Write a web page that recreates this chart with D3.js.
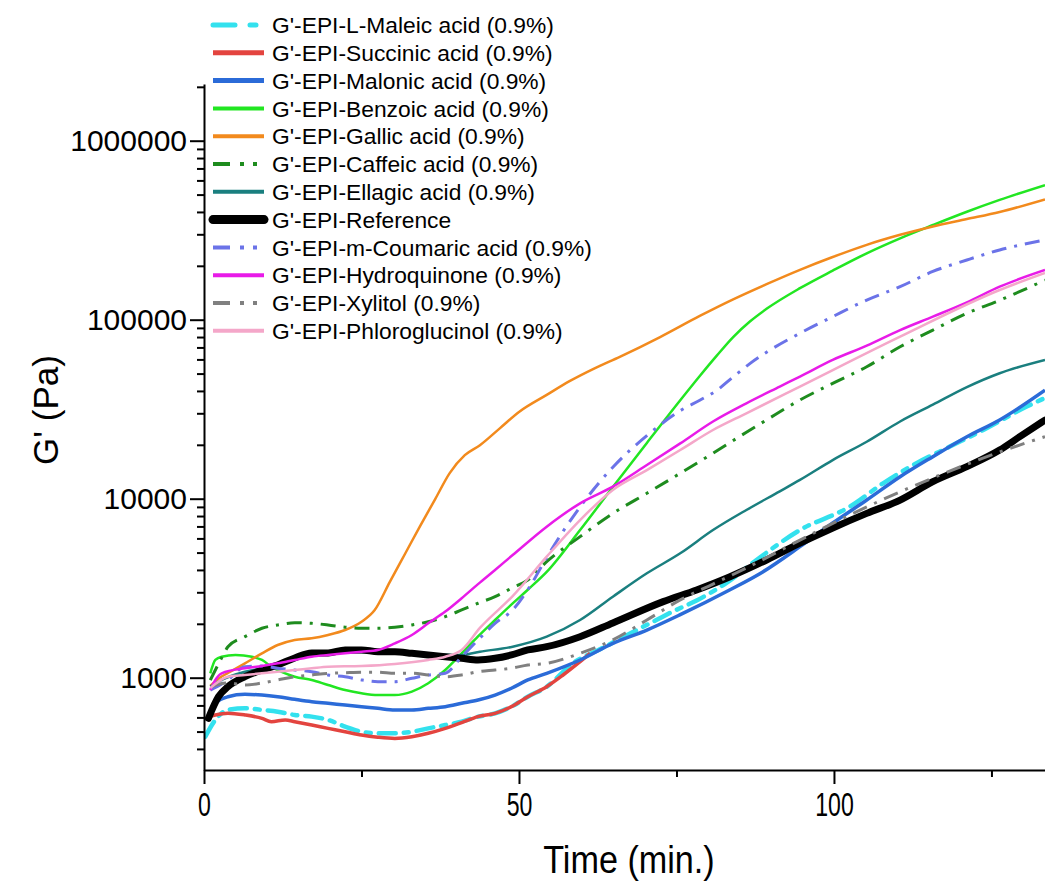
<!DOCTYPE html>
<html>
<head>
<meta charset="utf-8">
<script src="https://cdn.jsdelivr.net/npm/d3@7"></script>
<style>
  body { margin: 0; background: #fff; }
  svg text { font-family: "Liberation Sans", Arial, sans-serif; fill: #000; }
</style>
</head>
<body>
<svg id="chart" width="1045" height="882"></svg>
<script>
// Storage modulus G' (Pa) against time (min), one [time, G'] list per formulation
const maleic = [[0.2,468],[1.8,581],[3.8,661],[6.5,675],[9.2,661],[11.7,646],[14.4,619],[17.1,606],[19.7,581],[22.4,533],[25,499],[27.6,489],[30.3,489],[33,499],[35.6,521],[38.3,544],[40.9,568],[43.5,606],[46.2,632],[48.8,689],[51.4,783],[54.4,890],[58.6,1208],[63,1450],[68.7,1846],[71.8,2100],[74.4,2340],[78.2,2700],[83,3400],[87.7,4545],[94.6,6680],[102.5,9020],[107.8,12190],[113.1,15780],[118.4,19550],[123.7,24200],[130.6,32700],[133.5,36550]];
const succinic = [[0.6,603],[1.8,619],[3.8,633],[6.5,619],[9.2,593],[10.7,568],[12.9,581],[14.4,568],[17.1,544],[19.7,521],[22.4,499],[25,478],[27.6,465],[30.3,458],[33,468],[35.6,489],[38.3,521],[40.9,561],[43.5,606],[46.2,632],[48.8,689],[51.4,783],[54.4,891],[57,1035],[59.7,1228],[61.3,1368]];
const malonic = [[0.7,600],[1.8,719],[3.8,783],[6.5,807],[9.2,800],[11.7,783],[14.4,757],[17.1,734],[19.7,719],[22.4,703],[25,689],[27.6,674],[30.3,661],[33,661],[35.6,674],[38.3,689],[40.9,719],[43.5,750],[46.2,800],[48.8,873],[51.4,971],[54.4,1058],[59.7,1256],[64.9,1556],[70.3,1846],[75.6,2250],[83.5,3100],[88.7,3900],[94.6,5400],[99.8,7310],[105.2,9840],[110.5,13270],[115.7,17180],[121.1,22200],[126.3,27540],[133.5,40400]];
const benzoic = [[1,1058],[1.8,1256],[2.8,1310],[5,1340],[7.6,1310],[9.2,1256],[10.7,1152],[12.9,1058],[14.4,1013],[17.1,971],[19.7,910],[22.4,853],[25,818],[27.6,800],[30.3,800],[33,836],[35.6,931],[38.3,1104],[40.9,1368],[43.5,1700],[46.2,2100],[49,2600],[51.4,3100],[54.4,3900],[59.7,6680],[64.9,11620],[70.3,20500],[75.6,35500],[78.7,48500],[81.4,63000],[84,80000],[86.7,98000],[89.3,115000],[94.6,150000],[99.8,188000],[105.2,235000],[110.5,285000],[115.7,338000],[121.1,401000],[126.3,467000],[133.5,565000]];
const gallic = [[1,900],[2.5,1000],[3.8,1062],[6.5,1203],[9.2,1368],[11.7,1523],[14.4,1625],[17.1,1660],[19.7,1733],[22.4,1847],[25,2055],[27.1,2388],[29.5,3430],[31.9,4910],[34.3,7030],[36.7,9950],[39,13900],[41.4,17500],[43.8,19900],[47,24800],[50,30500],[54.4,38000],[58.1,45500],[62,53500],[66,62000],[72.4,80000],[78.7,105000],[84,130000],[89.3,158000],[94.6,190000],[99.8,224000],[105.2,262000],[110.5,298000],[115.7,332000],[121.1,365000],[126.3,400000],[133.5,470000]];
const caffeic = [[1,970],[2.8,1290],[3.8,1490],[6.5,1695],[9.2,1888],[11.7,1970],[14.4,2028],[17.1,2013],[19.7,1970],[22.4,1914],[25,1888],[27.6,1888],[30.3,1914],[33,1970],[35.6,2055],[38.3,2193],[40.9,2390],[43.5,2605],[46.2,2835],[48.8,3160],[51.4,3515],[54.4,4446],[59.7,6140],[64.9,8280],[70.3,10720],[75.6,13870],[80.8,17950],[86.1,23500],[89.3,27540],[94.6,35600],[99.8,44100],[105.2,54600],[110.5,70600],[115.7,87500],[121.1,108600],[126.3,128400],[133.5,166300]];
const ellagic = [[1,891],[2.8,971],[6.5,1080],[9.2,1129],[11.7,1203],[14.4,1283],[17.1,1340],[19.7,1368],[25,1392],[30.3,1374],[35.6,1356],[40.9,1340],[43.8,1397],[49,1490],[54.4,1695],[59.7,2100],[64.9,2835],[70.3,3830],[75.6,4955],[80.8,6680],[86.1,8650],[91.4,11000],[94.6,12740],[99.8,16440],[105.2,20800],[110.5,27000],[115.7,33500],[121.1,42000],[126.3,50200],[133.5,59600]];
const reference = [[0.7,593],[2.3,783],[3.8,891],[6.5,1013],[9.2,1104],[11.7,1178],[14.4,1289],[17.1,1374],[19.7,1374],[22.4,1429],[25,1429],[27.6,1397],[30.3,1397],[33,1368],[35.6,1340],[38.3,1310],[40.9,1283],[43.5,1256],[46.2,1283],[48.8,1340],[51.4,1429],[54.4,1490],[59.7,1695],[64.9,2022],[72.9,2660],[78.2,3093],[83.5,3666],[89.3,4545],[94.6,5640],[99.8,6860],[105.2,8280],[110.5,9830],[115.7,12450],[121.1,15100],[126.3,18700],[129.5,22200],[133.5,27500]];
const coumaric = [[1,853],[3.8,971],[6.5,1152],[9.2,1162],[11.7,1129],[14.4,1104],[17.1,1080],[19.7,1035],[22.4,1013],[25,971],[27.6,950],[30.3,950],[33,993],[35.6,1035],[38.3,1058],[40.9,1310],[43.5,1625],[46.2,2013],[49,2390],[51.7,3220],[54.4,4700],[59.7,9000],[64.9,15000],[70.3,22500],[75.6,31000],[78.7,35500],[81.4,40300],[84,47900],[86.7,57000],[89.3,65800],[94.6,84000],[99.8,104000],[105.2,128800],[110.5,152900],[115.7,186000],[121.1,215600],[126.3,245300],[133.5,279000]];
const hydroquinone = [[1,853],[1.8,971],[2.8,1058],[6.5,1129],[9.2,1162],[11.7,1203],[14.4,1256],[17.1,1310],[19.7,1340],[22.4,1368],[25,1397],[27.6,1429],[30.3,1556],[33,1733],[35.6,2013],[38.3,2340],[40.9,2780],[43.5,3333],[46.2,4000],[49,4845],[54.4,6980],[59.7,9420],[64.9,11670],[70.3,15420],[75.6,20370],[80.8,27000],[86.1,34120],[91.4,42300],[94.6,48100],[99.8,59600],[105.2,71600],[110.5,87500],[115.7,104000],[121.1,125000],[126.3,152900],[133.5,189500]];
const xylitol = [[1.2,891],[3.8,934],[6.5,910],[9.2,934],[11.7,971],[14.4,1013],[17.1,1035],[19.7,1058],[22.4,1066],[25,1072],[27.6,1072],[30.3,1058],[33,1058],[35.6,1035],[38.3,1013],[40.9,1035],[43.5,1080],[46.2,1104],[48.8,1129],[51.4,1178],[54.4,1203],[59.7,1368],[64.9,1625],[70.3,2100],[75.6,2720],[80.8,3333],[86.1,4100],[94.6,5870],[102.5,8110],[115.7,13060],[126.3,18240],[133.5,22200]];
const phloroglucinol = [[1,875],[3.8,1013],[6.5,1035],[9.2,1058],[11.7,1080],[14.4,1104],[17.1,1129],[19.7,1152],[25,1162],[30.3,1193],[35.6,1256],[38.3,1310],[40.9,1429],[43.8,1897],[49,2857],[54.4,4745],[59.7,7600],[64.9,11200],[70.3,14450],[75.6,18700],[80.8,24200],[86.1,30000],[94.6,42300],[110.5,80400],[126.3,146500],[133.5,182400]];

const seriesNames = [
  "G'-EPI-L-Maleic acid (0.9%)", "G'-EPI-Succinic acid (0.9%)", "G'-EPI-Malonic acid (0.9%)",
  "G'-EPI-Benzoic acid (0.9%)", "G'-EPI-Gallic acid (0.9%)", "G'-EPI-Caffeic acid (0.9%)",
  "G'-EPI-Ellagic acid (0.9%)", "G'-EPI-Reference", "G'-EPI-m-Coumaric acid (0.9%)",
  "G'-EPI-Hydroquinone (0.9%)", "G'-EPI-Xylitol (0.9%)", "G'-EPI-Phloroglucinol (0.9%)"
];
const yTickValues = [1000, 10000, 100000, 1000000];
const xTickValues = [0, 50, 100];
const xMinorTickValues = [25, 75, 125];
const xTitle = "Time (min.)";
const yTitle = "G' (Pa)";

// Line styling, in drawing order
const styles = [
  { data: maleic,        color: "#33e1ee", width: 4.5, legendWidth: 5,   dash: "17,8,5,8", legendDash: "22,15,6,30", cap: "round" },
  { data: succinic,      color: "#e3443f", width: 3.5, legendWidth: 5 },
  { data: malonic,       color: "#2b6bd8", width: 3.5, legendWidth: 5 },
  { data: benzoic,       color: "#22e622", width: 2.5, legendWidth: 4 },
  { data: gallic,        color: "#f28a1d", width: 2.5, legendWidth: 4 },
  { data: caffeic,       color: "#1e8c1e", width: 3,   legendWidth: 4,   dash: "15,8,3,8", legendDash: "17,10,4,9,4,20" },
  { data: ellagic,       color: "#1a7f7f", width: 2.5, legendWidth: 4 },
  { data: reference,     color: "#000000", width: 7,   legendWidth: 9,   cap: "round" },
  { data: coumaric,      color: "#6b73e8", width: 3,   legendWidth: 4,   dash: "15,8,3,8", legendDash: "17,10,4,9,4,20" },
  { data: hydroquinone,  color: "#e81be8", width: 2.5, legendWidth: 4 },
  { data: xylitol,       color: "#808080", width: 3,   legendWidth: 4,   dash: "15,8,3,8", legendDash: "17,10,4,9,4,20" },
  { data: phloroglucinol,color: "#f4a7c9", width: 2.5, legendWidth: 4 }
];

const plotLeft = 204, plotRight = 1045, plotTop = 84, plotBottom = 770;
const svg = d3.select("#chart");

const x = d3.scaleLinear().domain([0, 133.5]).range([plotLeft, plotRight]);
const y = d3.scaleLog().domain([305, 2.074e6]).range([plotBottom, plotTop]);

svg.append("defs").append("clipPath").attr("id", "plotClip")
  .append("rect").attr("x", plotLeft).attr("y", plotTop - 20)
  .attr("width", plotRight - plotLeft).attr("height", plotBottom - plotTop + 20);

// Curves
const line = d3.line().x(d => x(d[0])).y(d => y(d[1])).curve(d3.curveMonotoneX);
const plot = svg.append("g").attr("clip-path", "url(#plotClip)");
styles.forEach(s => {
  plot.append("path")
    .attr("d", line(s.data))
    .attr("fill", "none")
    .attr("stroke", s.color)
    .attr("stroke-width", s.width)
    .attr("stroke-linejoin", "round")
    .attr("stroke-linecap", s.cap || "butt")
    .attr("stroke-dasharray", s.dash || null);
});

// Y axis (log) with decade labels and minor ticks
const yMinor = [];
for (let p = 2; p <= 6; p++) {
  for (let m = 2; m <= 9; m++) {
    const v = m * Math.pow(10, p);
    if (v >= 305 && v <= 2.074e6) yMinor.push(v);
  }
}
const yAxis = svg.append("g").attr("transform", `translate(${plotLeft},0)`)
  .call(d3.axisLeft(y).tickValues(yTickValues).tickFormat(d3.format("d")).tickSize(14).tickSizeOuter(0).tickPadding(3));
svg.append("g").attr("transform", `translate(${plotLeft},0)`)
  .call(d3.axisLeft(y).tickValues(yMinor).tickFormat("").tickSize(7).tickSizeOuter(0))
  .call(g => g.select(".domain").remove());

// X axis with condensed labels
const xAxis = svg.append("g").attr("transform", `translate(0,${plotBottom})`)
  .call(d3.axisBottom(x).tickValues(xTickValues).tickFormat(d3.format("d")).tickSize(14).tickSizeOuter(0).tickPadding(8));
svg.append("g").attr("transform", `translate(0,${plotBottom})`)
  .call(d3.axisBottom(x).tickValues(xMinorTickValues).tickFormat("").tickSize(7).tickSizeOuter(0))
  .call(g => g.select(".domain").remove());

svg.selectAll(".domain, .tick line").attr("stroke", "#000").attr("stroke-width", 2);
yAxis.selectAll("text").style("font-size", "30px").style("font-family", '"Liberation Sans", Arial, sans-serif').attr("fill", "#000");
xAxis.selectAll("text").style("font-size", "34px").style("font-family", '"Liberation Sans", Arial, sans-serif').attr("fill", "#000")
  .attr("transform", "scale(0.68,1)");

// Axis titles
svg.append("text")
  .attr("transform", "translate(629,873) scale(0.9,1)")
  .attr("text-anchor", "middle")
  .style("font-size", "38px")
  .text(xTitle);
svg.append("text")
  .attr("transform", "translate(58,410) rotate(-90)")
  .attr("text-anchor", "middle")
  .style("font-size", "35px")
  .text(yTitle);

// Legend
const legend = svg.append("g");
styles.forEach((s, i) => {
  const cy = 25 + i * 27.8;
  legend.append("line")
    .attr("x1", 213).attr("x2", 264).attr("y1", cy).attr("y2", cy)
    .attr("stroke", s.color)
    .attr("stroke-width", s.legendWidth)
    .attr("stroke-linecap", s.cap || "butt")
    .attr("stroke-dasharray", s.legendDash || null);
  legend.append("text")
    .attr("x", 272).attr("y", cy).attr("dy", "0.36em")
    .style("font-size", "22.8px")
    .text(seriesNames[i]);
});
</script>
</body>
</html>
